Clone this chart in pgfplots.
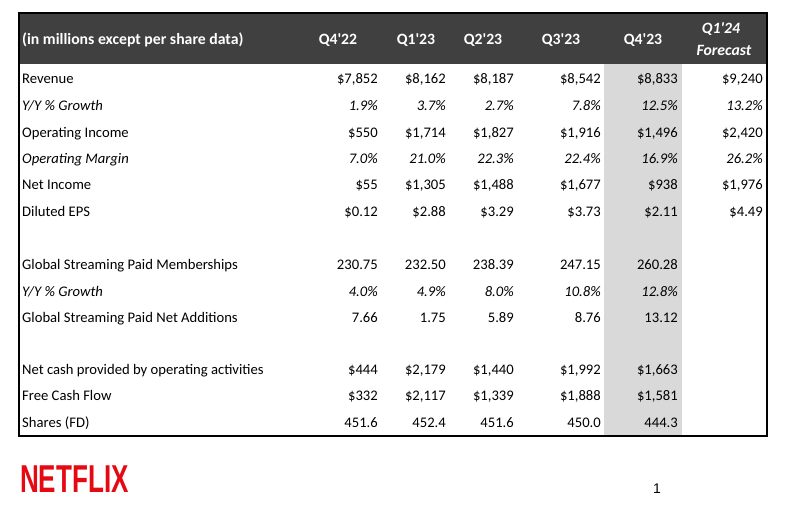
\documentclass[border=0pt]{standalone}
\usepackage{pgfplots}
\pgfplotsset{compat=1.18}
\usepackage{pgfplotstable}
\usepackage{fontspec}
\setmainfont{Carlito}
\newfontfamily\logofont{Liberation Sans}

\definecolor{hdr}{RGB}{64,64,64}
\definecolor{colgray}{RGB}{217,217,217}
\definecolor{nflx}{RGB}{229,9,20}

\newcommand\cellfont{\fontsize{14.7}{16}\selectfont}
\newcommand\hdrfont{\fontsize{15.8}{17}\selectfont\bfseries}
\newcommand\q{\textquotesingle}

% rows set upright (y = row centre)
\pgfplotstableread[col sep=semicolon]{
y;label;a;b;c;d;e;f
79;Revenue;\$7,852;\$8,162;\$8,187;\$8,542;\$8,833;\$9,240
132;Operating Income;\$550;\$1,714;\$1,827;\$1,916;\$1,496;\$2,420
184;Net Income;\$55;\$1,305;\$1,488;\$1,677;\$938;\$1,976
211;Diluted EPS;\$0.12;\$2.88;\$3.29;\$3.73;\$2.11;\$4.49
264;Global Streaming Paid Memberships;230.75;232.50;238.39;247.15;260.28;
317;Global Streaming Paid Net Additions;7.66;1.75;5.89;8.76;13.12;
369;Net cash provided by operating activities;\$444;\$2,179;\$1,440;\$1,992;\$1,663;
395;Free Cash Flow;\$332;\$2,117;\$1,339;\$1,888;\$1,581;
422;Shares (FD);451.6;452.4;451.6;450.0;444.3;
}\plainrows

% rows set in italics
\pgfplotstableread[col sep=semicolon]{
y;label;a;b;c;d;e;f
105;Y/Y \% Growth;1.9\%;3.7\%;2.7\%;7.8\%;12.5\%;13.2\%
158;Operating Margin;7.0\%;21.0\%;22.3\%;22.4\%;16.9\%;26.2\%
291;Y/Y \% Growth;4.0\%;4.9\%;8.0\%;10.8\%;12.8\%;
}\italrows

\pgfplotsset{
  cell/.style={draw=none, mark=none, nodes near coords, point meta=explicit symbolic,
    nodes near coords style={anchor=base east, yshift=-5bp, inner sep=0pt, text=black, font=\cellfont}},
  lab/.style={draw=none, mark=none, nodes near coords, point meta=explicit symbolic,
    nodes near coords style={anchor=base west, yshift=-5bp, inner sep=0pt, text=black, font=\cellfont}},
  ital/.style={nodes near coords style={font=\cellfont\itshape}},
}

\begin{document}
\begin{tikzpicture}
\begin{axis}[
  at={(0,0)}, anchor=south west,
  width=785bp, height=506bp, scale only axis,
  xmin=0, xmax=785, ymin=0, ymax=506, y dir=reverse,
  hide axis, clip=false
]
% header band and shaded latest quarter
\fill[hdr] (axis cs:19,13) rectangle (axis cs:767,64);
\fill[colgray] (axis cs:604,64) rectangle (axis cs:682,436);
\draw[black, line width=1.3bp] (axis cs:19,13) rectangle (axis cs:767,436);

\node[anchor=west, inner sep=0pt, text=white, font=\hdrfont] at (axis cs:22,40) {(in millions except per share data)};
\node[inner sep=0pt, text=white, font=\hdrfont] at (axis cs:338,40) {Q4\q22};
\node[inner sep=0pt, text=white, font=\hdrfont] at (axis cs:416,40) {Q1\q23};
\node[inner sep=0pt, text=white, font=\hdrfont] at (axis cs:483,40) {Q2\q23};
\node[inner sep=0pt, text=white, font=\hdrfont] at (axis cs:561,40) {Q3\q23};
\node[inner sep=0pt, text=white, font=\hdrfont] at (axis cs:643,40) {Q4\q23};
\node[inner sep=0pt, text=white, font=\hdrfont\itshape] at (axis cs:721,29) {Q1\q24};
\node[inner sep=0pt, text=white, font=\hdrfont\itshape] at (axis cs:724,50) {Forecast};

% row labels
\addplot[lab] table[x expr=22, y=y, meta=label] {\plainrows};
\addplot[lab, ital] table[x expr=22, y=y, meta=label] {\italrows};

% values, right aligned
\addplot[cell] table[x expr=378, y=y, meta=a] {\plainrows};
\addplot[cell] table[x expr=446, y=y, meta=b] {\plainrows};
\addplot[cell] table[x expr=514, y=y, meta=c] {\plainrows};
\addplot[cell] table[x expr=601, y=y, meta=d] {\plainrows};
\addplot[cell] table[x expr=678, y=y, meta=e] {\plainrows};
\addplot[cell] table[x expr=763, y=y, meta=f] {\plainrows};
\addplot[cell, ital] table[x expr=378, y=y, meta=a] {\italrows};
\addplot[cell, ital] table[x expr=446, y=y, meta=b] {\italrows};
\addplot[cell, ital] table[x expr=514, y=y, meta=c] {\italrows};
\addplot[cell, ital] table[x expr=601, y=y, meta=d] {\italrows};
\addplot[cell, ital] table[x expr=678, y=y, meta=e] {\italrows};
\addplot[cell, ital] table[x expr=763, y=y, meta=f] {\italrows};

% logo and page number
\node[anchor=west, inner sep=0pt, text=nflx, font=\logofont\bfseries\fontsize{39}{40}\selectfont, xscale=0.67] at (axis cs:20,479) {NETFLIX};
\node[inner sep=0pt, font=\logofont\fontsize{14}{16}\selectfont] at (axis cs:657,489) {1};
\end{axis}
\pgfresetboundingbox
\path (0,0) rectangle (785bp,506bp);
\end{tikzpicture}
\end{document}
